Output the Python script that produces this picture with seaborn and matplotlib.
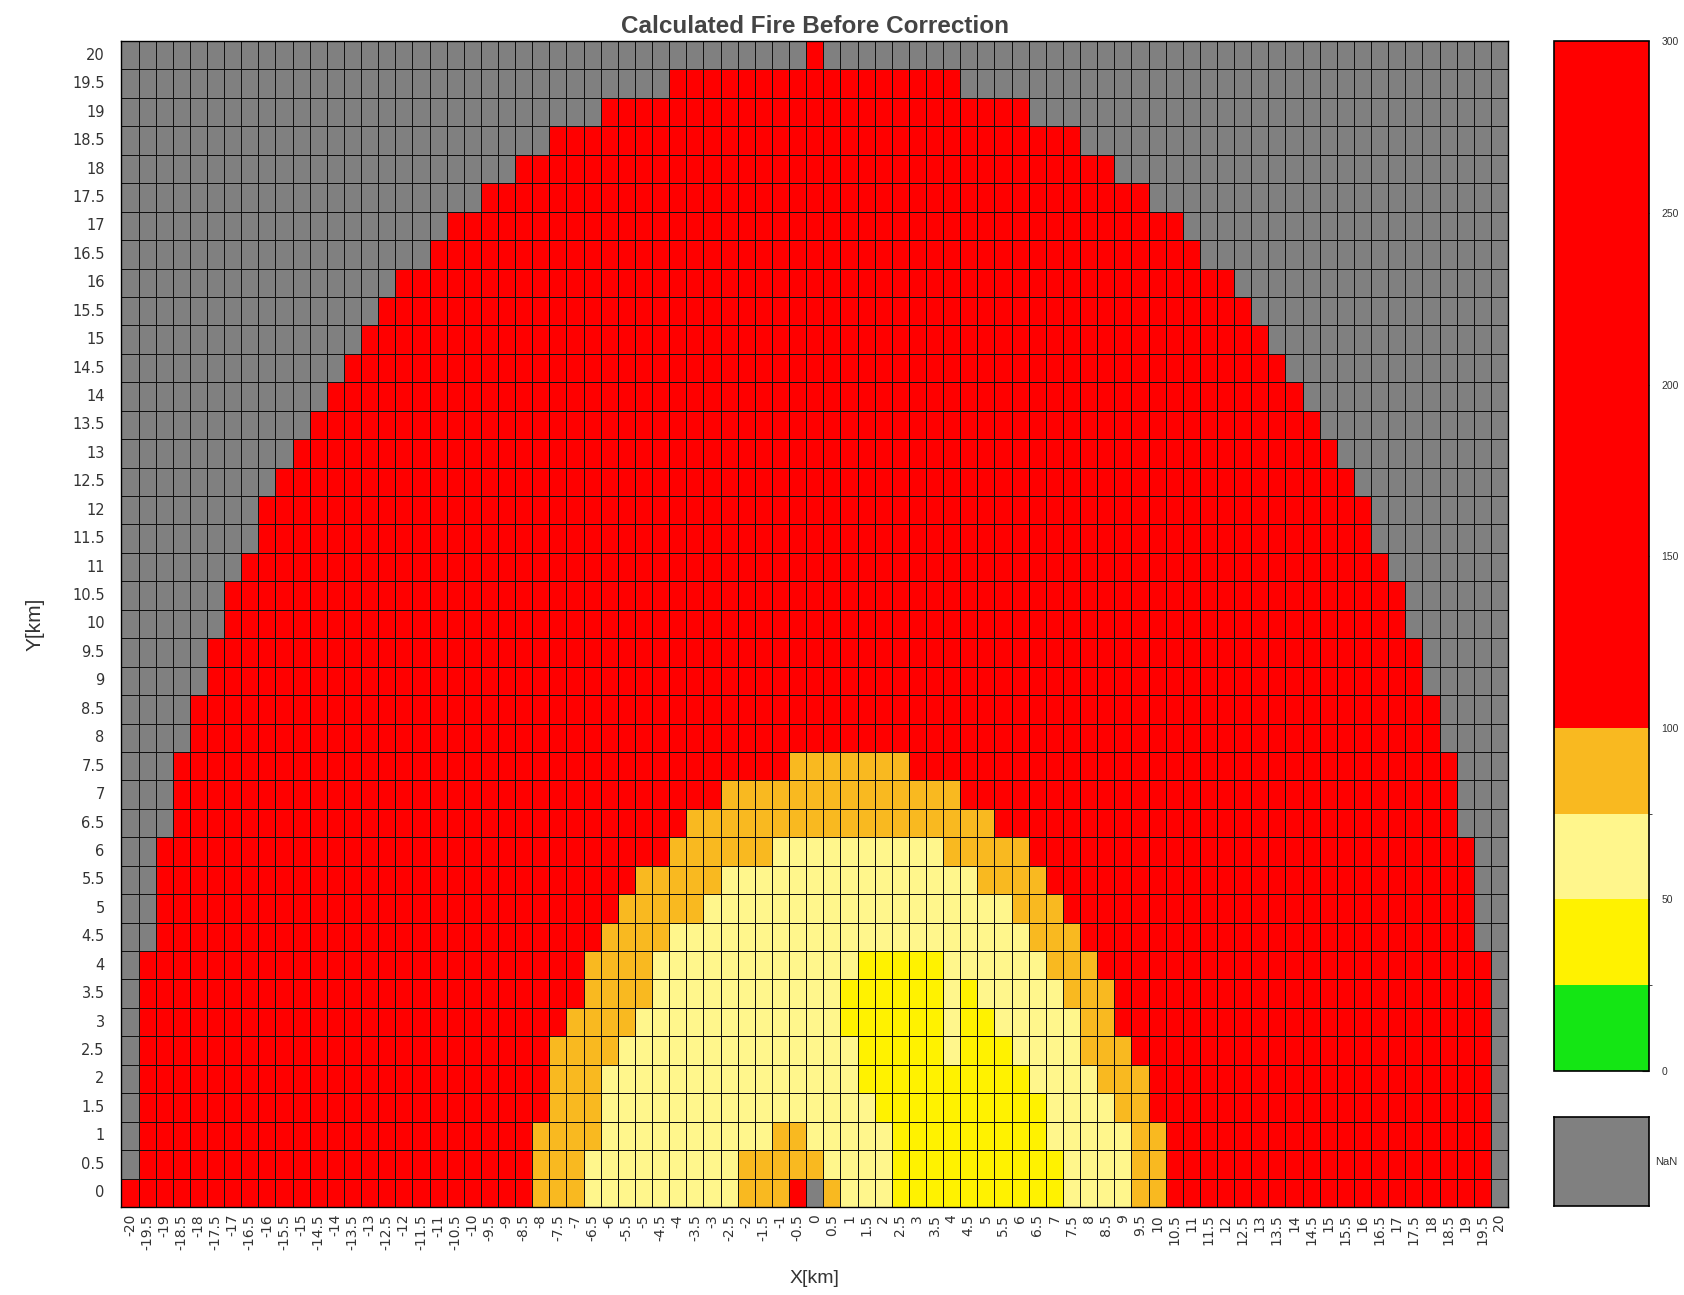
import numpy as np
import pandas as pd
import matplotlib
matplotlib.use("Agg")
import matplotlib.pyplot as plt
import seaborn as sns
from matplotlib.colors import ListedColormap, BoundaryNorm
from matplotlib.cm import ScalarMappable

sns.set_style("white")
plt.rcParams['font.family'] = ['Liberation Sans', 'DejaVu Sans']

# ---------------- data ----------------
x_km = np.arange(-20, 20.5, 0.5)          # 81 columns
y_km = np.arange(20, -0.5, -0.5)          # 41 rows, top (20) to bottom (0)

# colour class of each cell, run-length coded per row (top row = 20 km)
# N = no data (NaN), G = 0-25, Y = 25-50, L = 50-75, O = 75-100, R = 100-300
fire_rows = [
    "N40 R1 N40",                                        # 20
    "N32 R17 N32",                                       # 19.5
    "N28 R25 N28",                                       # 19
    "N25 R31 N25",                                       # 18.5
    "N23 R35 N23",                                       # 18
    "N21 R39 N21",                                       # 17.5
    "N19 R43 N19",                                       # 17
    "N18 R45 N18",                                       # 16.5
    "N16 R49 N16",                                       # 16
    "N15 R51 N15",                                       # 15.5
    "N14 R53 N14",                                       # 15
    "N13 R55 N13",                                       # 14.5
    "N12 R57 N12",                                       # 14
    "N11 R59 N11",                                       # 13.5
    "N10 R61 N10",                                       # 13
    "N9 R63 N9",                                         # 12.5
    "N8 R65 N8",                                         # 12
    "N8 R65 N8",                                         # 11.5
    "N7 R67 N7",                                         # 11
    "N6 R69 N6",                                         # 10.5
    "N6 R69 N6",                                         # 10
    "N5 R71 N5",                                         # 9.5
    "N5 R71 N5",                                         # 9
    "N4 R73 N4",                                         # 8.5
    "N4 R73 N4",                                         # 8
    "N3 R36 O7 R32 N3",                                  # 7.5
    "N3 R32 O14 R29 N3",                                 # 7
    "N3 R30 O18 R27 N3",                                 # 6.5
    "N2 R30 O6 L10 O5 R26 N2",                           # 6
    "N2 R28 O5 L15 O4 R25 N2",                           # 5.5
    "N2 R27 O5 L18 O3 R24 N2",                           # 5
    "N2 R26 O4 L21 O3 R23 N2",                           # 4.5
    "N1 R26 O4 L12 Y5 L6 O3 R23 N1",                     # 4
    "N1 R26 O4 L11 Y6 L1 Y1 L5 O3 R22 N1",               # 3.5
    "N1 R25 O4 L12 Y6 L1 Y2 L5 O2 R22 N1",               # 3
    "N1 R24 O4 L14 Y5 L1 Y3 L4 O3 R21 N1",               # 2.5
    "N1 R24 O3 L15 Y10 L4 O3 R20 N1",                    # 2
    "N1 R24 O3 L16 Y10 L4 O2 R20 N1",                    # 1.5
    "N1 R23 O4 L10 O2 L5 Y9 L5 O2 R19 N1",               # 1
    "N1 R23 O3 L9 O5 L4 Y10 L4 O2 R19 N1",               # 0.5
    "R24 O3 L9 O3 R1 N1 O1 L3 Y10 L4 O2 R19 N1",         # 0
]

class_value = {"N": np.nan, "G": 12.5, "Y": 37.5, "L": 62.5, "O": 87.5, "R": 200.0}

colorbar_bounds = [0, 25, 50, 75, 100, 300]
colorbar_ticks = [0, 50, 100, 150, 200, 250, 300]
class_colors = ["#14e614", "#fff200", "#fff68c", "#f9b920", "#ff0000"]
nan_color = "#808080"

# ---------------- build table ----------------
grid = []
for row in fire_rows:
    vals = []
    for tok in row.split():
        vals.extend([class_value[tok[0]]] * int(tok[1:]))
    vals = (vals + [np.nan] * 81)[:81]
    grid.append(vals)

fmt = lambda v: ("%g" % v)
df = pd.DataFrame(grid, index=[fmt(v) for v in y_km], columns=[fmt(v) for v in x_km])

cmap = ListedColormap(class_colors)
norm = BoundaryNorm(colorbar_bounds, cmap.N)

# ---------------- figure ----------------
fig = plt.figure(figsize=(16.84, 12.95), dpi=100)
ax = fig.add_axes([0.0721, 0.068, 0.8234, 0.9003])

# grey background layer (cells with no data), with black cell borders
sns.heatmap(pd.DataFrame(np.zeros(df.shape), index=df.index, columns=df.columns),
            cmap=ListedColormap([nan_color]), cbar=False, linewidths=0.6,
            linecolor="#111111", ax=ax, xticklabels=True, yticklabels=True)
# data layer
sns.heatmap(df, mask=df.isna(), cmap=cmap, norm=norm, cbar=False,
            linewidths=0.6, linecolor="#111111", ax=ax,
            xticklabels=True, yticklabels=True)

for s in ax.spines.values():
    s.set_visible(True)
    s.set_color("black")
    s.set_linewidth(1.0)

for lab in ax.get_xticklabels() + ax.get_yticklabels():
    lab.set_family("DejaVu Sans")
ax.tick_params(axis="x", labelsize=10, labelrotation=90, length=0, pad=5, colors="#333333")
ax.tick_params(axis="y", labelsize=10.5, labelrotation=0, length=0, pad=12, colors="#333333")
ax.set_xlabel("X[km]", fontsize=14, color="#333333", labelpad=15)
ax.set_ylabel("Y[km]", fontsize=15, color="#333333", labelpad=20)
ax.set_title("Calculated Fire Before Correction", fontsize=17.5, fontweight="bold",
             color="#444444", pad=6)

# colorbar
cax = fig.add_axes([0.9228, 0.173, 0.0564, 0.795])
sm = ScalarMappable(norm=norm, cmap=cmap)
cb = fig.colorbar(sm, cax=cax, spacing="proportional", ticks=colorbar_ticks)
cb.outline.set_edgecolor("black")
cb.outline.set_linewidth(1.2)
cax.tick_params(labelsize=7.5, direction="in", length=5, pad=9, colors="#333333")

# NaN legend box
nax = fig.add_axes([0.9228, 0.0687, 0.0564, 0.0687])
nax.set_facecolor(nan_color)
nax.set_xticks([])
nax.set_yticks([])
for s in nax.spines.values():
    s.set_color("black")
    s.set_linewidth(1.2)
nax.text(1.06, 0.5, "NaN", transform=nax.transAxes, fontsize=8,
         va="center", ha="left", color="#333333")

fig.savefig("out.png", dpi=100)
